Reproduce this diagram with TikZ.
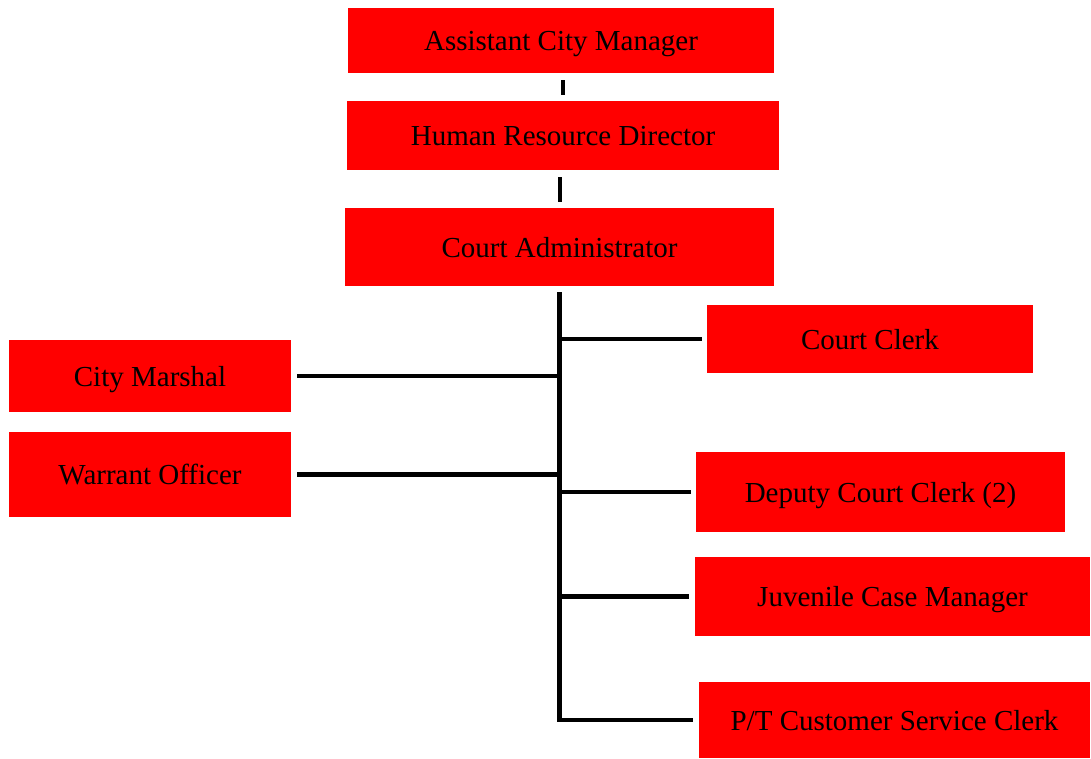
\documentclass[tikz,border=0pt]{standalone}
\usepackage{fontspec}
\setmainfont{Liberation Serif}
\usetikzlibrary{positioning}

\begin{document}
\begin{tikzpicture}[x=1pt, y=-1pt,
    post/.style={fill=red, inner sep=0pt, text depth=0pt, font=\fontsize{29}{34}\selectfont},
    link/.style={line width=4.5pt, line cap=butt}]
      \useasboundingbox (0,0) rectangle (1091,759);

      % chain at the top
      \node[post, minimum width=426pt, minimum height=65pt] (acm) at (561,40.5) {Assistant City Manager};
      \node[post, minimum width=432pt, minimum height=69pt] (hrd) at (563,135.5) {Human Resource Director};
      \node[post, minimum width=429pt, minimum height=78pt] (ca) at (559.5,247) {Court Administrator};

      % left side
      \node[post, minimum width=282pt, minimum height=72pt] (cm) at (150,376) {City Marshal};
      \node[post, minimum width=282pt, minimum height=85pt] (wo) at (150,474.5) {Warrant Officer};

      % right side
      \node[post, minimum width=326pt, minimum height=68pt] (cc) at (870,339) {Court Clerk};
      \node[post, minimum width=369pt, minimum height=80pt] (dcc) at (880.5,492) {Deputy Court Clerk (2)};
      \node[post, minimum width=395pt, minimum height=79pt] (jcm) at (892.5,596.5) {Juvenile Case Manager};
      \node[post, minimum width=391pt, minimum height=76pt] (pt) at (894.5,720) {P/T Customer Service Clerk};

      \draw[link, line width=4pt, shorten <=7pt, shorten >=6pt] (acm.south -| hrd.north) -- (hrd.north);
      \draw[link, line width=4pt, shorten <=7pt, shorten >=6pt] (hrd.south -| ca.north) -- (ca.north);

      \draw[link] ([yshift=-6pt]ca.south) |- ([xshift=-6pt]pt.west);
      \draw[link, shorten >=5pt] (ca.south |- cc.west) -- (cc.west);
      \draw[link, shorten >=5pt] (ca.south |- dcc.west) -- (dcc.west);
      \draw[link, shorten >=6pt] (ca.south |- jcm.west) -- (jcm.west);
      \draw[link, shorten >=6pt] (ca.south |- cm.east) -- (cm.east);
      \draw[link, shorten >=6pt] (ca.south |- wo.east) -- (wo.east);
    \end{tikzpicture}
\end{document}
